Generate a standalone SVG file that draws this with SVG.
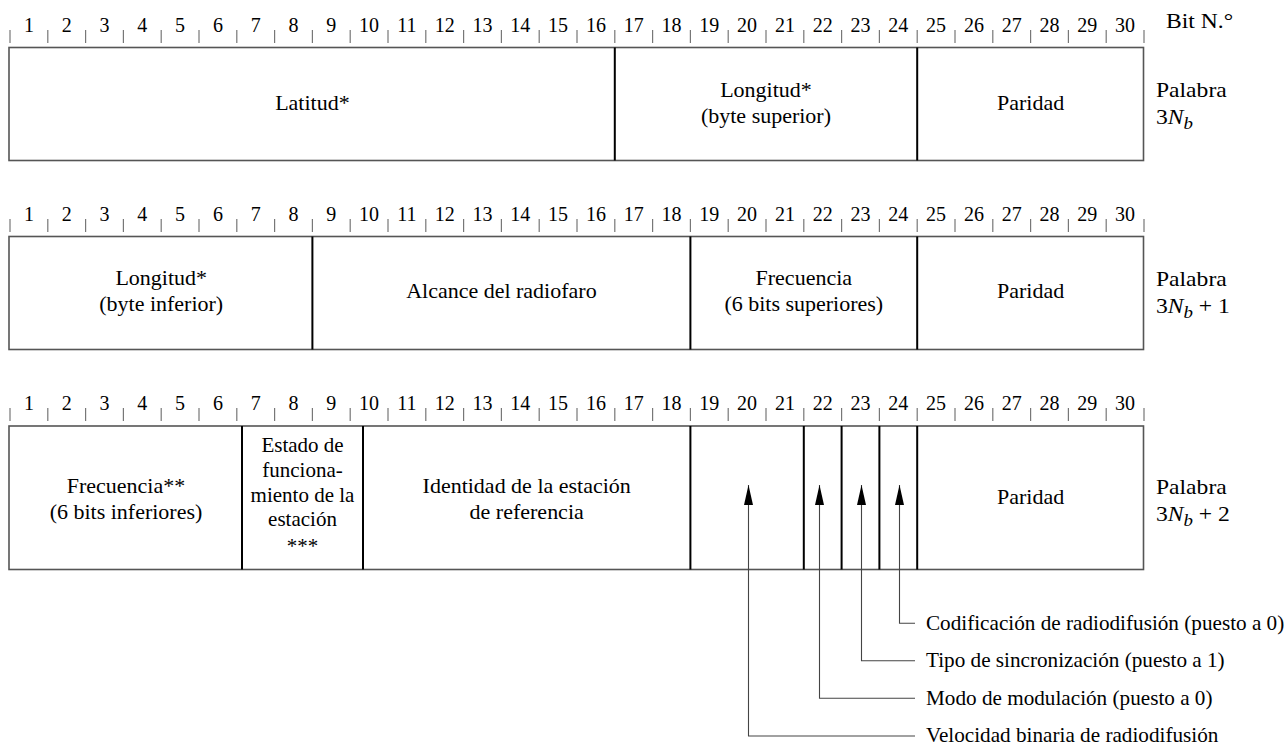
<svg xmlns="http://www.w3.org/2000/svg" width="1286" height="747" viewBox="0 0 1286 747">
<style>
text{font-family:"Liberation Serif","Times New Roman",serif;fill:#000;font-size:20px}
.n{text-anchor:middle}
.t{text-anchor:middle}
.tick{stroke:#777;stroke-width:1.2;fill:none}
.box{stroke:#555;stroke-width:1.6;fill:#fff}
.div{stroke:#000;stroke-width:2;fill:none}
.con{stroke:#444;stroke-width:1.1;fill:none}
</style>
<defs>
<marker id="ah" markerWidth="10" markerHeight="20" refX="5" refY="0" orient="0" markerUnits="userSpaceOnUse" viewBox="0 0 10 20">
<path d="M5,0 L9.5,20 L0.5,20 Z" fill="#000"/>
</marker>
</defs>
<g id="bitlabel" transform="scale(1.18 1)"><text x="988.14" y="28">Bit N.°</text></g>
<g id="ruler1">
<path class="tick" d="M10,30V43M47.8,30V43M85.6,30V43M123.4,30V43M161.2,30V43M199,30V43M236.8,30V43M274.6,30V43M312.4,30V43M350.2,30V43M388,30V43M425.8,30V43M463.6,30V43M501.4,30V43M539.2,30V43M577,30V43M614.8,30V43M652.6,30V43M690.4,30V43M728.2,30V43M766,30V43M803.8,30V43M841.6,30V43M879.4,30V43M917.2,30V43M955,30V43M992.8,30V43M1030.6,30V43M1068.4,30V43M1106.2,30V43M1144,30V43"/>
<g class="n">
<text x="28.9" y="31.5">1</text><text x="66.7" y="31.5">2</text><text x="104.5" y="31.5">3</text><text x="142.3" y="31.5">4</text><text x="180.1" y="31.5">5</text><text x="217.9" y="31.5">6</text><text x="255.7" y="31.5">7</text><text x="293.5" y="31.5">8</text><text x="331.3" y="31.5">9</text><text x="369.1" y="31.5">10</text><text x="406.9" y="31.5">11</text><text x="444.7" y="31.5">12</text><text x="482.5" y="31.5">13</text><text x="520.3" y="31.5">14</text><text x="558.1" y="31.5">15</text><text x="595.9" y="31.5">16</text><text x="633.7" y="31.5">17</text><text x="671.5" y="31.5">18</text><text x="709.3" y="31.5">19</text><text x="747.1" y="31.5">20</text><text x="784.9" y="31.5">21</text><text x="822.7" y="31.5">22</text><text x="860.5" y="31.5">23</text><text x="898.3" y="31.5">24</text><text x="936.1" y="31.5">25</text><text x="973.9" y="31.5">26</text><text x="1011.7" y="31.5">27</text><text x="1049.5" y="31.5">28</text><text x="1087.3" y="31.5">29</text><text x="1125.1" y="31.5">30</text>
</g>
</g>
<g id="word1">
<rect class="box" x="9" y="47.5" width="1134.5" height="113"/>
<path class="div" d="M614.8,47.5V160.5M917.2,47.5V160.5"/>
<g transform="scale(1.1 1)">
<text class="t" x="284" y="110">Latitud*</text>
<text class="t" x="696.36" y="97">Longitud*</text>
<text class="t" x="696.36" y="123">(byte superior)</text>
<text class="t" x="936.91" y="110">Paridad</text>
</g>
<g transform="scale(1.18 1)">
<text x="979.66" y="97">Palabra</text>
<text x="979.66" y="124">3<tspan font-style="italic">N</tspan><tspan font-style="italic" font-size="16" dy="5">b</tspan></text>
</g>
</g>
<g id="ruler2">
<path class="tick" d="M10,219V232M47.8,219V232M85.6,219V232M123.4,219V232M161.2,219V232M199,219V232M236.8,219V232M274.6,219V232M312.4,219V232M350.2,219V232M388,219V232M425.8,219V232M463.6,219V232M501.4,219V232M539.2,219V232M577,219V232M614.8,219V232M652.6,219V232M690.4,219V232M728.2,219V232M766,219V232M803.8,219V232M841.6,219V232M879.4,219V232M917.2,219V232M955,219V232M992.8,219V232M1030.6,219V232M1068.4,219V232M1106.2,219V232M1144,219V232"/>
<g class="n">
<text x="28.9" y="220.5">1</text><text x="66.7" y="220.5">2</text><text x="104.5" y="220.5">3</text><text x="142.3" y="220.5">4</text><text x="180.1" y="220.5">5</text><text x="217.9" y="220.5">6</text><text x="255.7" y="220.5">7</text><text x="293.5" y="220.5">8</text><text x="331.3" y="220.5">9</text><text x="369.1" y="220.5">10</text><text x="406.9" y="220.5">11</text><text x="444.7" y="220.5">12</text><text x="482.5" y="220.5">13</text><text x="520.3" y="220.5">14</text><text x="558.1" y="220.5">15</text><text x="595.9" y="220.5">16</text><text x="633.7" y="220.5">17</text><text x="671.5" y="220.5">18</text><text x="709.3" y="220.5">19</text><text x="747.1" y="220.5">20</text><text x="784.9" y="220.5">21</text><text x="822.7" y="220.5">22</text><text x="860.5" y="220.5">23</text><text x="898.3" y="220.5">24</text><text x="936.1" y="220.5">25</text><text x="973.9" y="220.5">26</text><text x="1011.7" y="220.5">27</text><text x="1049.5" y="220.5">28</text><text x="1087.3" y="220.5">29</text><text x="1125.1" y="220.5">30</text>
</g>
</g>
<g id="word2">
<rect class="box" x="9" y="236.5" width="1134.5" height="113"/>
<path class="div" d="M312.4,236.5V349.5M690.4,236.5V349.5M917.2,236.5V349.5"/>
<g transform="scale(1.1 1)">
<text class="t" x="146.55" y="285">Longitud*</text>
<text class="t" x="146.55" y="311">(byte inferior)</text>
<text class="t" x="455.82" y="298">Alcance del radiofaro</text>
<text class="t" x="730.73" y="285">Frecuencia</text>
<text class="t" x="730.73" y="311">(6 bits superiores)</text>
<text class="t" x="936.91" y="298">Paridad</text>
</g>
<g transform="scale(1.18 1)">
<text x="979.66" y="286">Palabra</text>
<text x="979.66" y="313">3<tspan font-style="italic">N</tspan><tspan font-style="italic" font-size="16" dy="5">b</tspan><tspan dy="-5"> + 1</tspan></text>
</g>
</g>
<g id="ruler3">
<path class="tick" d="M10,408V421M47.8,408V421M85.6,408V421M123.4,408V421M161.2,408V421M199,408V421M236.8,408V421M274.6,408V421M312.4,408V421M350.2,408V421M388,408V421M425.8,408V421M463.6,408V421M501.4,408V421M539.2,408V421M577,408V421M614.8,408V421M652.6,408V421M690.4,408V421M728.2,408V421M766,408V421M803.8,408V421M841.6,408V421M879.4,408V421M917.2,408V421M955,408V421M992.8,408V421M1030.6,408V421M1068.4,408V421M1106.2,408V421M1144,408V421"/>
<g class="n">
<text x="28.9" y="410">1</text><text x="66.7" y="410">2</text><text x="104.5" y="410">3</text><text x="142.3" y="410">4</text><text x="180.1" y="410">5</text><text x="217.9" y="410">6</text><text x="255.7" y="410">7</text><text x="293.5" y="410">8</text><text x="331.3" y="410">9</text><text x="369.1" y="410">10</text><text x="406.9" y="410">11</text><text x="444.7" y="410">12</text><text x="482.5" y="410">13</text><text x="520.3" y="410">14</text><text x="558.1" y="410">15</text><text x="595.9" y="410">16</text><text x="633.7" y="410">17</text><text x="671.5" y="410">18</text><text x="709.3" y="410">19</text><text x="747.1" y="410">20</text><text x="784.9" y="410">21</text><text x="822.7" y="410">22</text><text x="860.5" y="410">23</text><text x="898.3" y="410">24</text><text x="936.1" y="410">25</text><text x="973.9" y="410">26</text><text x="1011.7" y="410">27</text><text x="1049.5" y="410">28</text><text x="1087.3" y="410">29</text><text x="1125.1" y="410">30</text>
</g>
</g>
<g id="word3">
<rect class="box" x="9" y="426" width="1134.5" height="143.5"/>
<path class="div" d="M242,426V569.5M363,426V569.5M690.4,426V569.5M803.8,426V569.5M841.6,426V569.5M879.4,426V569.5M917.2,426V569.5"/>
<g transform="scale(1.1 1)">
<text class="t" x="114.55" y="493">Frecuencia**</text>
<text class="t" x="114.55" y="519">(6 bits inferiores)</text>
<text class="t" x="478.82" y="493">Identidad de la estación</text>
<text class="t" x="478.82" y="519">de referencia</text>
<text class="t" x="936.91" y="504">Paridad</text>
</g>
<g transform="scale(1.05 1)">
<text class="t" x="288.1" y="452">Estado de</text>
<text class="t" x="288.1" y="477">funciona-</text>
<text class="t" x="288.1" y="502">miento de la</text>
<text class="t" x="288.1" y="526">estación</text>
<text class="t" x="288.1" y="553" font-size="16">***</text>
</g>
<g transform="scale(1.18 1)">
<text x="979.66" y="494">Palabra</text>
<text x="979.66" y="521">3<tspan font-style="italic">N</tspan><tspan font-style="italic" font-size="16" dy="5">b</tspan><tspan dy="-5"> + 2</tspan></text>
</g>
</g>
<g id="connectors">
<path class="con" d="M748.5,485V736H915" marker-start="url(#ah)"/>
<path class="con" d="M819.5,485V698.3H915" marker-start="url(#ah)"/>
<path class="con" d="M861.5,485V660.7H915" marker-start="url(#ah)"/>
<path class="con" d="M899.5,485V623.3H915" marker-start="url(#ah)"/>
</g>
<g id="labels" transform="scale(1.06 1)">
<text x="873.58" y="630">Codificación de radiodifusión (puesto a 0)</text>
<text x="873.58" y="667.5">Tipo de sincronización (puesto a 1)</text>
<text x="873.58" y="705">Modo de modulación (puesto a 0)</text>
<text x="873.58" y="742.5">Velocidad binaria de radiodifusión</text>
</g>
</svg>
